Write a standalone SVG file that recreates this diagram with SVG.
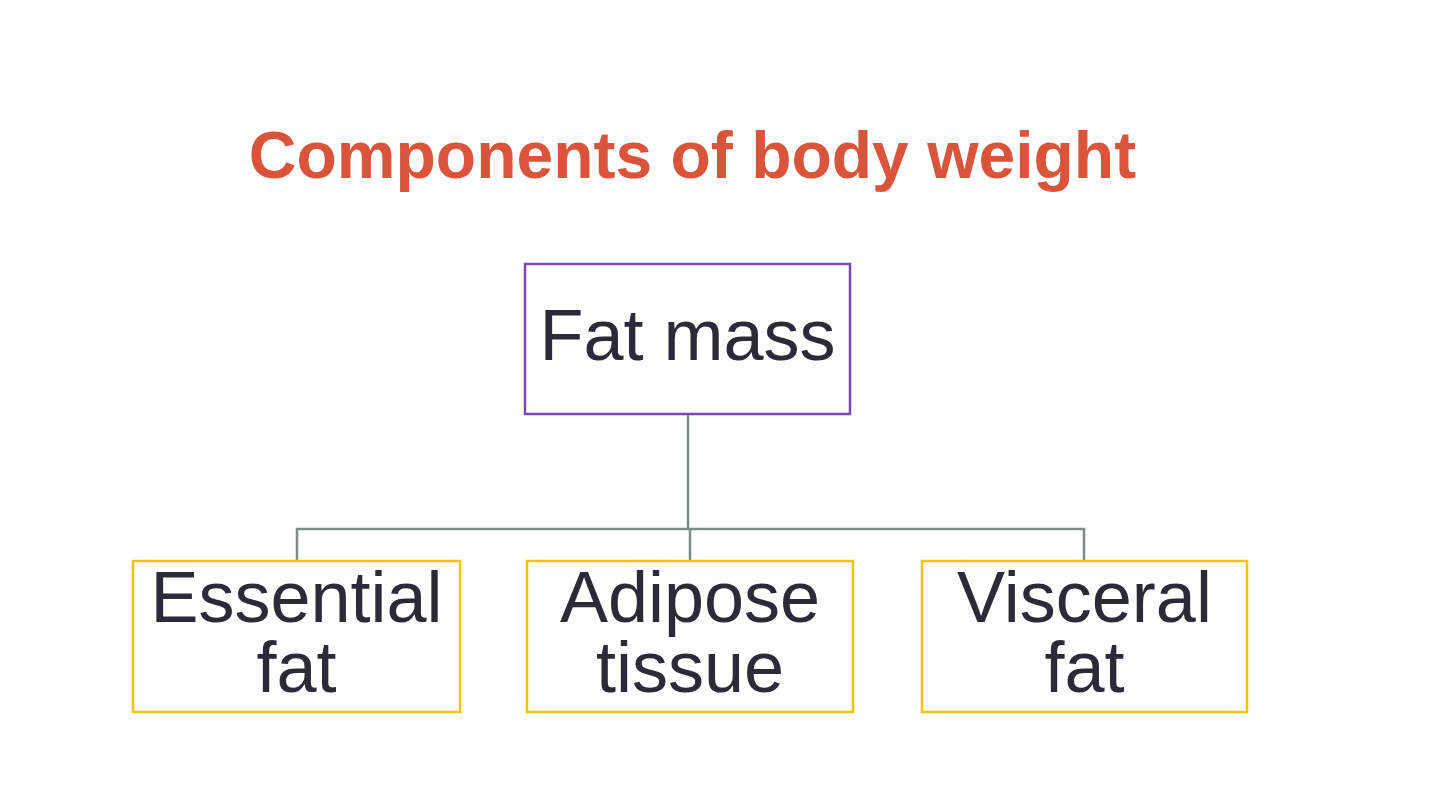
<svg xmlns="http://www.w3.org/2000/svg" width="1439" height="810" viewBox="0 0 1439 810">
<style>
.title{font-family:"Liberation Sans",Arial,sans-serif;font-weight:bold;font-size:66px;fill:#d9543a}
.lbl{font-family:"Liberation Sans",Arial,sans-serif;font-size:72px;fill:#2b2b38;text-anchor:middle}
.top{fill:#fff;stroke:#7d48b6;stroke-width:2.5}
.leaf{fill:#fff;stroke:#f5c211;stroke-width:2.5}
.conn{fill:none;stroke:#7b8b88;stroke-width:2.5}
</style>
<rect width="1439" height="810" fill="#fff"/>
<text class="title" x="692.5" y="178" text-anchor="middle">Components of body weight</text>
<g id="connectors">
<path class="conn" d="M688 414 V529 M297 561 V529 H1084 V561 M690 529 V561"/>
</g>
<g id="fat-mass">
<rect class="top" x="525" y="264" width="325" height="150"/>
<text class="lbl" x="687.5" y="360">Fat mass</text>
</g>
<g id="essential-fat">
<rect class="leaf" x="133" y="561" width="327" height="151"/>
<text class="lbl" x="296.5" y="622">Essential</text>
<text class="lbl" x="296.5" y="692">fat</text>
</g>
<g id="adipose-tissue">
<rect class="leaf" x="527" y="561" width="326" height="151"/>
<text class="lbl" x="690" y="622">Adipose</text>
<text class="lbl" x="690" y="692">tissue</text>
</g>
<g id="visceral-fat">
<rect class="leaf" x="922" y="561" width="325" height="151"/>
<text class="lbl" x="1084.5" y="622">Visceral</text>
<text class="lbl" x="1084.5" y="692">fat</text>
</g>
</svg>
